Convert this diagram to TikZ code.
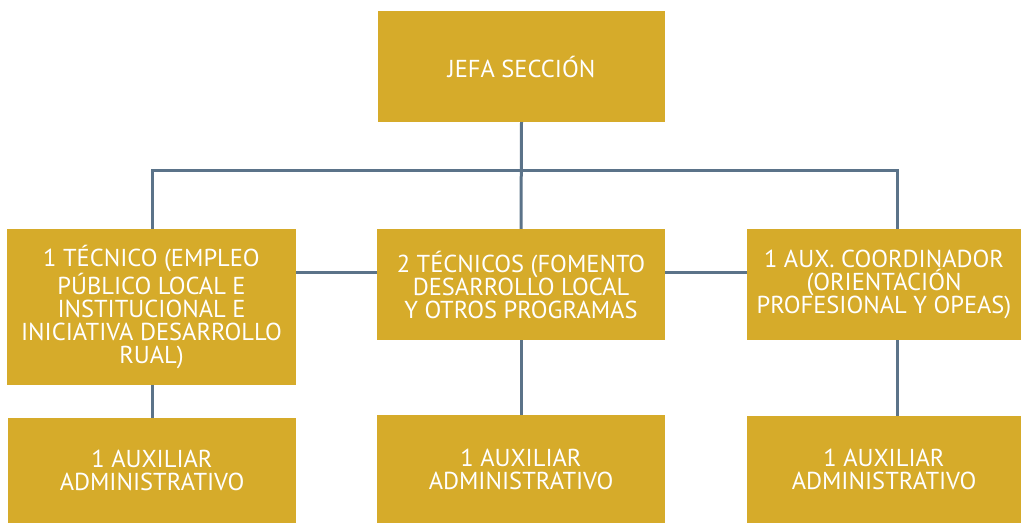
\documentclass[tikz,border=0pt]{standalone}
\usepackage{fontspec}
\setmainfont{PT Sans}
\usepackage{tikz}
\usetikzlibrary{positioning}
\definecolor{boxgold}{HTML}{D6AB2A}
\definecolor{linkgray}{HTML}{5B7389}
\tikzset{
  box/.style={fill=boxgold, inner sep=0pt, text=white, align=center,
    font=\fontsize{24.5}{23}\selectfont},
  link/.style={draw=linkgray, line width=3pt}
}
\begin{document}
\begin{tikzpicture}[x=1pt,y=-1pt]
  \useasboundingbox (0,0) rectangle (1021,523);
  % top
  \node[box, minimum width=287pt, minimum height=111pt] (jefa) at (521.5,66.5) {JEFA SECCIÓN};
  % middle row
  \node[box, minimum width=289pt, minimum height=156pt] (tec1) at (151.5,307) {1 TÉCNICO (EMPLEO\\PÚBLICO LOCAL E\\INSTITUCIONAL E\\INICIATIVA DESARROLLO\\RUAL)};
  \node[box, minimum width=288pt, minimum height=111pt] (tec2) at (521,284.5) {2 TÉCNICOS (FOMENTO\\DESARROLLO LOCAL\\Y OTROS PROGRAMAS};
  \node[box, minimum width=274pt, minimum height=111pt] (tec3) at (884,284.5) {1 AUX. COORDINADOR\\(ORIENTACIÓN\\PROFESIONAL Y OPEAS)};
  % bottom row
  \node[box, minimum width=288pt, minimum height=105pt] (aux1) at (152,470.5) {1 AUXILIAR\\ADMINISTRATIVO};
  \node[box, minimum width=288pt, minimum height=108pt] (aux2) at (521,469) {1 AUXILIAR\\ADMINISTRATIVO};
  \node[box, minimum width=274pt, minimum height=107pt] (aux3) at (884,469.5) {1 AUXILIAR\\ADMINISTRATIVO};
  % connectors
  \coordinate (bus) at (521,170);
  \draw[link] (jefa.south) -- (tec2.north);
  \draw[link] (tec1.north -| 152,0) -- (bus -| 152,0) -- (bus -| 897,0) -- (tec3.north -| 897,0);
  \draw[link] (tec1.east |- 0,272) -- (tec2.west |- 0,272);
  \draw[link] (tec2.east |- 0,272) -- (tec3.west |- 0,272);
  \draw[link] (tec1.south -| 152,0) -- (aux1.north -| 152,0);
  \draw[link] (tec2.south) -- (aux2.north);
  \draw[link] (tec3.south -| 897,0) -- (aux3.north -| 897,0);
\end{tikzpicture}
\end{document}
